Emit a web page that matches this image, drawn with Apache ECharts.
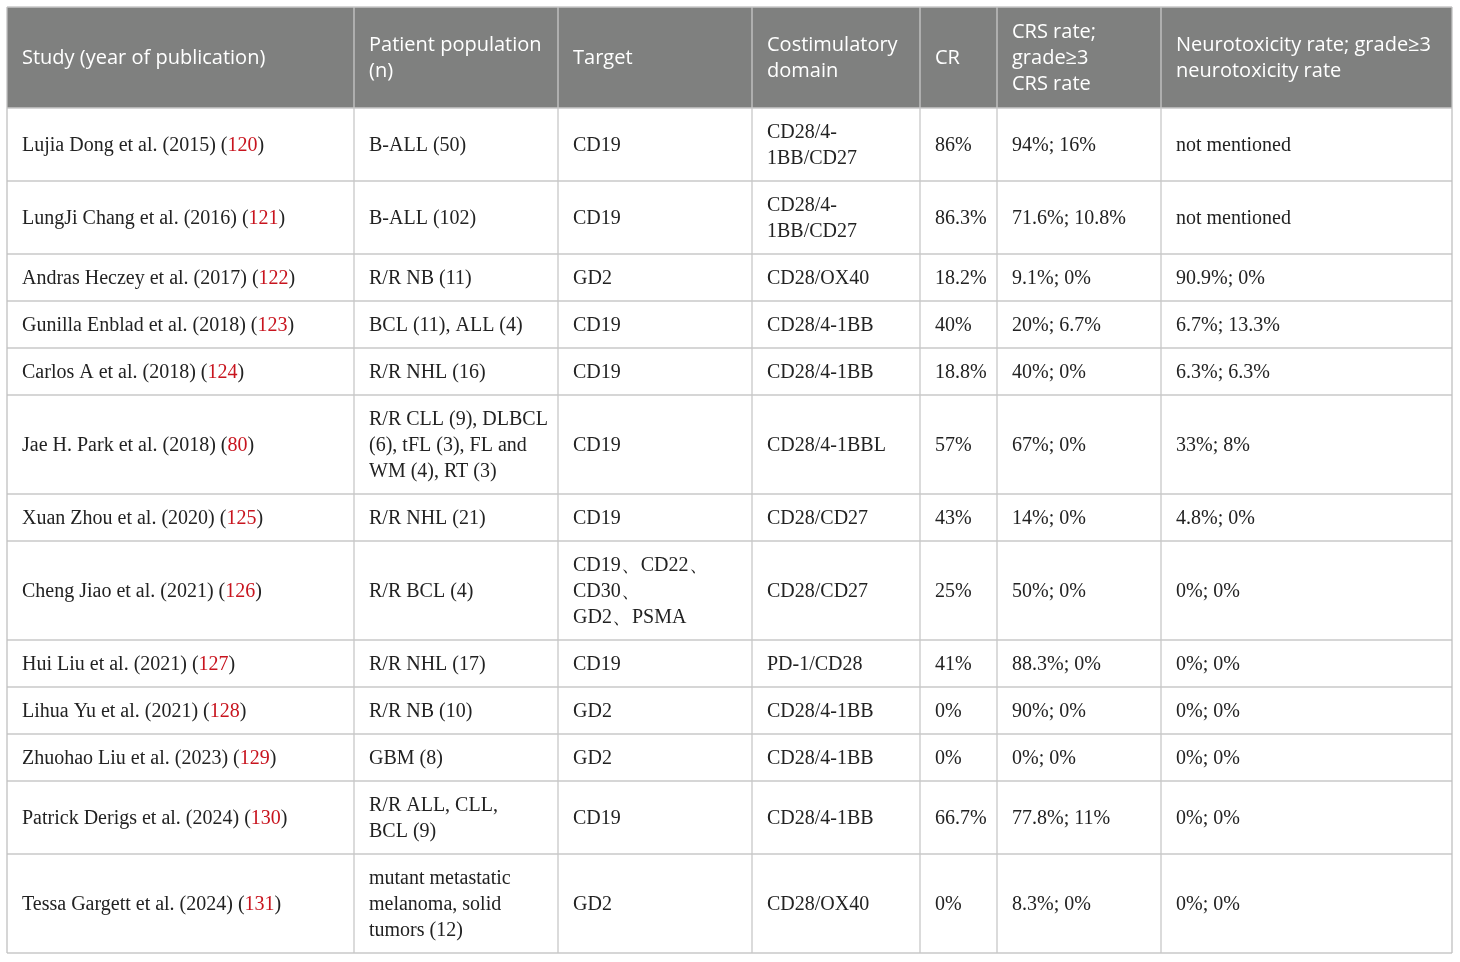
<!DOCTYPE html>
<html>
<head>
<meta charset="utf-8">
<script src="https://cdn.jsdelivr.net/npm/echarts@6/dist/echarts.min.js"></script>
<style>
html,body{margin:0;padding:0;background:#fff;}
#main{width:1460px;height:962px;}
</style>
</head>
<body>
<div id="main"></div>
<script>
// 表头
var headers=['Study (year of publication)','Patient population\n(n)','Target','Costimulatory\ndomain','CR','CRS rate;\ngrade≥3\nCRS rate','Neurotoxicity rate; grade≥3\nneurotoxicity rate'];
// 每行数据
var studies=['Lujia Dong et al. (2015)','LungJi Chang et al. (2016)','Andras Heczey et al. (2017)','Gunilla Enblad et al. (2018)','Carlos A et al. (2018)','Jae H. Park et al. (2018)','Xuan Zhou et al. (2020)','Cheng Jiao et al. (2021)','Hui Liu et al. (2021)','Lihua Yu et al. (2021)','Zhuohao Liu et al. (2023)','Patrick Derigs et al. (2024)','Tessa Gargett et al. (2024)'];
var refs=['120','121','122','123','124','80','125','126','127','128','129','130','131'];
var populations=['B-ALL (50)','B-ALL (102)','R/R NB (11)','BCL (11), ALL (4)','R/R NHL (16)','R/R CLL (9), DLBCL\n(6), tFL (3), FL and\nWM (4), RT (3)','R/R NHL (21)','R/R BCL (4)','R/R NHL (17)','R/R NB (10)','GBM (8)','R/R ALL, CLL,\nBCL (9)','mutant metastatic\nmelanoma, solid\ntumors (12)'];
var targets=['CD19','CD19','GD2','CD19','CD19','CD19','CD19','CD19、CD22、\nCD30、\nGD2、PSMA','CD19','GD2','GD2','CD19','GD2'];
var domains=['CD28/4-\n1BB/CD27','CD28/4-\n1BB/CD27','CD28/OX40','CD28/4-1BB','CD28/4-1BB','CD28/4-1BBL','CD28/CD27','CD28/CD27','PD-1/CD28','CD28/4-1BB','CD28/4-1BB','CD28/4-1BB','CD28/OX40'];
var crs=['86%','86.3%','18.2%','40%','18.8%','57%','43%','25%','41%','0%','0%','66.7%','0%'];
var crsRates=['94%; 16%','71.6%; 10.8%','9.1%; 0%','20%; 6.7%','40%; 0%','67%; 0%','14%; 0%','50%; 0%','88.3%; 0%','90%; 0%','0%; 0%','77.8%; 11%','8.3%; 0%'];
var neuroRates=['not mentioned','not mentioned','90.9%; 0%','6.7%; 13.3%','6.3%; 6.3%','33%; 8%','4.8%; 0%','0%; 0%','0%; 0%','0%; 0%','0%; 0%','0%; 0%','0%; 0%'];

var colX=[7,354,558,752,920,997,1161,1452]; //列边界
var top0=7;
var headH=101;
var lineH=26;
var pad=15;
var serif='"Liberation Serif","DejaVu Serif",serif';
var sans='"Open Sans","Noto Sans",sans-serif';

function lines(s){return s.split('\n').length;}

var myChart=echarts.init(document.getElementById('main'),null,{renderer:'canvas'});
var els=[];
//表头背景
els.push({type:'rect',shape:{x:colX[0],y:top0,width:colX[7]-colX[0],height:headH},style:{fill:'#7f807f'},z:1});
for(var c=0;c<headers.length;c++){
	els.push({type:'text',x:colX[c]+pad,y:top0+headH/2+1,z:5,style:{text:headers[c],fill:'#fff',font:'20px '+sans,lineHeight:lineH,verticalAlign:'middle',align:'left'}});
}
//行
var y=top0+headH;
var rowTops=[y];
for(var i=0;i<studies.length;i++){
	var n=Math.max(lines(populations[i]),lines(targets[i]),lines(domains[i]),1);
	var h=21+n*lineH;
	var cy=y+h/2+1;
	var cells=[null,populations[i],targets[i],domains[i],crs[i],crsRates[i],neuroRates[i]];
	els.push({type:'text',x:colX[0]+pad,y:cy,z:5,style:{
		text:'{a|'+studies[i]+' (}{r|'+refs[i]+'}{a|)}',verticalAlign:'middle',align:'left',
		rich:{a:{fill:'#222',font:'20px '+serif},r:{fill:'#c8141e',font:'20px '+serif}}
	}});
	for(var c=1;c<cells.length;c++){
		els.push({type:'text',x:colX[c]+pad,y:cy,z:5,style:{text:cells[c],fill:'#222',font:'20px '+serif,lineHeight:lineH,verticalAlign:'middle',align:'left'}});
	}
	y+=h;
	rowTops.push(y);
}
//横线
for(var i=0;i<rowTops.length;i++){
	els.push({type:'line',shape:{x1:colX[0],y1:rowTops[i],x2:colX[7],y2:rowTops[i]},style:{stroke:'#c8c8c8',lineWidth:1.3},z:3});
}
els.push({type:'line',shape:{x1:colX[0],y1:top0,x2:colX[7],y2:top0},style:{stroke:'#c8c8c8',lineWidth:1.3},z:3});
//竖线
for(var c=0;c<colX.length;c++){
	els.push({type:'line',shape:{x1:colX[c],y1:top0,x2:colX[c],y2:y},style:{stroke:c>0&&c<7?'#c8c8c8':'#c0c0c0',lineWidth:1.3},z:3});
}
myChart.setOption({animation:false,graphic:{elements:els}});
</script>
</body>
</html>
